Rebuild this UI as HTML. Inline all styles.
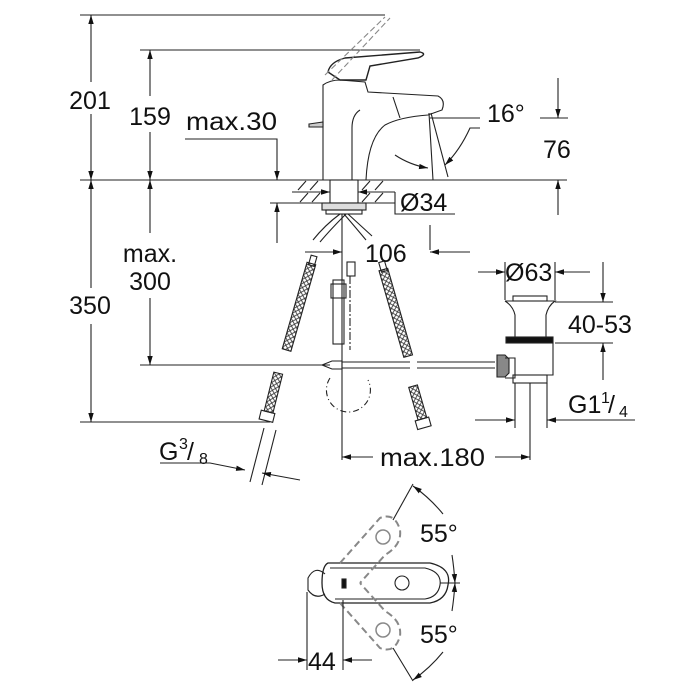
<!DOCTYPE html>
<html><head><meta charset="utf-8"><style>
html,body{margin:0;padding:0;background:#fff;}
svg{display:block;}
text{font-family:"Liberation Sans",sans-serif;fill:#111;}
</style></head><body>
<svg width="700" height="700" viewBox="0 0 700 700" xmlns="http://www.w3.org/2000/svg">
<defs>
<marker id="a" viewBox="0 0 10 10" refX="10" refY="5" markerWidth="9" markerHeight="9" orient="auto-start-reverse" markerUnits="userSpaceOnUse"><path d="M0,2 L10,5 L0,8 Z" fill="#111"/></marker>
<pattern id="x" width="5" height="5" patternUnits="userSpaceOnUse"><path d="M0,0 L5,5 M5,0 L0,5" stroke="#333" stroke-width="0.8"/></pattern>
</defs>
<g stroke="#222" stroke-width="1.1" fill="none">
<line x1="80" y1="15" x2="385" y2="15"/>
<line x1="140" y1="50" x2="420" y2="50"/>
<line x1="80" y1="180" x2="567" y2="180"/>
<line x1="80" y1="422" x2="270" y2="422"/>
<line x1="140" y1="365" x2="330" y2="365"/>
<line x1="91" y1="15" x2="91" y2="82" marker-start="url(#a)"/>
<line x1="91" y1="114" x2="91" y2="180" marker-end="url(#a)"/>
<line x1="91" y1="180" x2="91" y2="288" marker-start="url(#a)"/>
<line x1="91" y1="324" x2="91" y2="422" marker-end="url(#a)"/>
<line x1="150" y1="50" x2="150" y2="96" marker-start="url(#a)"/>
<line x1="150" y1="132" x2="150" y2="180" marker-end="url(#a)"/>
<line x1="150" y1="180" x2="150" y2="233" marker-start="url(#a)"/>
<line x1="150" y1="298" x2="150" y2="365" marker-end="url(#a)"/>
<polyline points="185,139 277,139 277,180" marker-end="url(#a)"/>
<line x1="270" y1="203" x2="330" y2="203"/>
<line x1="277" y1="243" x2="277" y2="203" marker-end="url(#a)"/>
<path d="M298,190 l8,-9 M310,190 l8,-9 M300,202 l8,-9 M312,202 l8,-9 M362,190 l8,-9 M375,190 l8,-9 M362,202 l8,-9 M375,202 l8,-9"/>
<line x1="292" y1="203" x2="395" y2="203"/>
<line x1="292" y1="192" x2="330" y2="192" marker-end="url(#a)"/>
<line x1="395" y1="192" x2="358" y2="192" marker-end="url(#a)"/>
<polyline points="395,192 395,214 455,214"/>
<rect x="330" y="180" width="28" height="23"/>
<path d="M323,180 L323,85 Q330,80 340,80 L365,82 L368,92 L438,96 Q446,100 442,110 L428,115 Q400,117 385,125 Q368,138 366,180"/>
<path d="M352,180 L352,128 Q352,115 360,110"/>
<path d="M328,72 Q330,62 345,58 L420,52 Q428,54 418,58 L370,66 L366,80 L340,80 Z" stroke-width="1.4"/>
<path d="M325,75 l60,-58 M332,80 l58,-62" stroke="#888" stroke-dasharray="6,3"/>
<path d="M309,124 L323,122 L323,127 L309,127 Z" fill="#ccc"/>
<path d="M393,97 L400,118"/>
<path d="M429,113 L433,180 M431,113 L448,177"/>
<path d="M430,118 L480,118"/>
<path d="M395,155 Q410,165 428,168" marker-end="url(#a)"/>
<path d="M480,128 L470,128 Q460,150 445,165" marker-end="url(#a)"/>
<line x1="540" y1="118" x2="568" y2="118"/>
<line x1="558" y1="78" x2="558" y2="118" marker-end="url(#a)"/>
<line x1="558" y1="215" x2="558" y2="180" marker-end="url(#a)"/>
<rect x="322" y="203" width="44" height="7" fill="#ddd"/>
<rect x="326" y="210" width="36" height="4"/>
<path d="M340,214 Q325,225 313,240 M346,214 Q330,230 320,242 M348,214 Q360,225 372,236 M344,214 Q356,228 366,240"/>
<line x1="342" y1="214" x2="342" y2="460"/>
<line x1="305" y1="252" x2="342" y2="252" marker-end="url(#a)"/>
<line x1="430" y1="225" x2="430" y2="250"/>
<line x1="470" y1="252" x2="430" y2="252" marker-end="url(#a)"/>
<g transform="rotate(16 300 305)"><rect x="295" y="262" width="9" height="90" fill="url(#x)"/><rect x="297" y="254" width="6" height="10"/></g>
<g transform="rotate(-16 395 312)"><rect x="391" y="268" width="9" height="90" fill="url(#x)"/><rect x="393" y="260" width="6" height="10"/></g>
<g transform="rotate(14 270 400)"><rect x="267" y="372" width="9" height="40" fill="url(#x)"/><rect x="264" y="412" width="14" height="9"/></g>
<g transform="rotate(-16 420 405)"><rect x="414" y="385" width="9" height="34" fill="url(#x)"/><rect x="411" y="419" width="14" height="9"/></g>
<path d="M264,428 L250,482 M276,430 L262,485"/>
<rect x="333" y="280" width="11" height="64"/>
<rect x="331" y="284" width="15" height="14"/>
<rect x="347" y="262" width="8" height="14"/>
<path d="M350,276 L350,350" stroke-dasharray="8,2,2,2"/>
<path d="M322,365 l10,-4 l10,0 l0,8 l-10,0 z"/>
<line x1="342" y1="362" x2="410" y2="362"/><line x1="342" y1="368" x2="410" y2="368"/>
<line x1="417" y1="362" x2="495" y2="362"/><line x1="417" y1="368" x2="495" y2="368"/>
<path d="M330,378 A22,22 0 1 0 368,380" stroke-dasharray="6,3,1,3"/>
<polyline points="160,463 210,463 245,470" marker-end="url(#a)"/>
<line x1="300" y1="480" x2="262" y2="473" marker-end="url(#a)"/>
<path d="M497,355 l8,0 l4,4 l0,14 l-4,4 l-8,0 z" fill="#888"/>
<path d="M505,358 L515,358 L515,378 L505,378"/>
<rect x="513" y="296" width="34" height="5"/>
<path d="M505,301 L555,301 Q548,306 546,315 L546,337 L515,337 L515,315 Q513,306 505,301"/>
<rect x="506" y="337" width="47" height="6" fill="#111"/>
<path d="M515,343 L553,343 L553,375 L515,375"/>
<rect x="513" y="375" width="34" height="8"/>
<line x1="515" y1="383" x2="515" y2="428"/><line x1="547" y1="383" x2="547" y2="428"/>
<line x1="530" y1="383" x2="530" y2="460"/>
<line x1="505" y1="262" x2="505" y2="300"/><line x1="555" y1="262" x2="555" y2="300"/>
<line x1="478" y1="272" x2="505" y2="272" marker-end="url(#a)"/>
<line x1="590" y1="272" x2="555" y2="272" marker-end="url(#a)"/>
<line x1="555" y1="302" x2="613" y2="302"/><line x1="555" y1="343" x2="613" y2="343"/>
<line x1="603" y1="262" x2="603" y2="302" marker-end="url(#a)"/>
<line x1="603" y1="380" x2="603" y2="343" marker-end="url(#a)"/>
<line x1="475" y1="420" x2="515" y2="420" marker-end="url(#a)"/>
<line x1="635" y1="420" x2="547" y2="420" marker-end="url(#a)"/>
<line x1="373" y1="457" x2="342" y2="457" marker-end="url(#a)"/>
<line x1="495" y1="457" x2="530" y2="457" marker-end="url(#a)"/>
<path d="M325,574 Q315,565 308,578 L308,590 Q315,600 325,594" />
<path d="M328,563 L430,563 Q452,568 448,585 Q446,600 430,603 L335,603 Q322,600 322,583 Q322,566 328,563 Z" stroke-width="1.3"/>
<path d="M330,568 L425,568 Q442,572 440,585 Q438,597 425,599 L335,599"/>
<circle cx="402" cy="583" r="7"/>
<rect x="342" y="579" width="4" height="9" fill="#111"/>
<g stroke="#888" stroke-width="2" stroke-dasharray="7,4">
<path d="M340,563 L380,518 Q395,512 400,530 Q402,545 385,555 L360,583"/>
<path d="M340,603 L380,648 Q395,654 400,636 Q402,621 385,611 L360,583"/>
</g>
<circle cx="383" cy="537" r="7" stroke="#888" stroke-width="1.5"/>
<circle cx="383" cy="630" r="7" stroke="#888" stroke-width="1.5"/>
<line x1="393" y1="520" x2="413" y2="484"/>
<line x1="393" y1="648" x2="413" y2="681"/>
<line x1="440" y1="583" x2="460" y2="583"/>
<path d="M443,514 Q430,498 413,486" marker-end="url(#a)"/>
<path d="M452,555 Q454,568 455,583" marker-end="url(#a)"/>
<path d="M452,611 Q454,598 455,583" marker-end="url(#a)"/>
<path d="M443,652 Q430,668 413,680" marker-end="url(#a)"/>
<line x1="307" y1="592" x2="307" y2="670"/>
<line x1="343" y1="600" x2="343" y2="670"/>
<line x1="278" y1="660" x2="307" y2="660" marker-end="url(#a)"/>
<line x1="372" y1="660" x2="343" y2="660" marker-end="url(#a)"/>
</g>
<g font-size="25">
<text x="90" y="109" text-anchor="middle">201</text>
<text x="150" y="125" text-anchor="middle">159</text>
<text x="186" y="130" textLength="91" lengthAdjust="spacingAndGlyphs">max.30</text>
<text x="90" y="314" text-anchor="middle">350</text>
<text x="150" y="262" text-anchor="middle">max.</text>
<text x="150" y="290" text-anchor="middle">300</text>
<text x="400" y="211">Ø34</text>
<text x="365" y="262">106</text>
<text x="487" y="122">16°</text>
<text x="543" y="158">76</text>
<text x="505" y="281">Ø63</text>
<text x="568" y="333">40-53</text>
<text x="568" y="413">G1</text><text x="601" y="403" font-size="16">1</text><text x="608" y="413">/</text><text x="619" y="417" font-size="16">4</text>
<text x="380" y="466" textLength="105" lengthAdjust="spacingAndGlyphs">max.180</text>
<text x="159" y="460">G</text><text x="179" y="449" font-size="16">3</text><text x="187" y="460">/</text><text x="199" y="464" font-size="16">8</text>
<text x="420" y="542">55°</text>
<text x="420" y="643">55°</text>
<text x="308" y="670">44</text>
</g>
</svg>
</body></html>
